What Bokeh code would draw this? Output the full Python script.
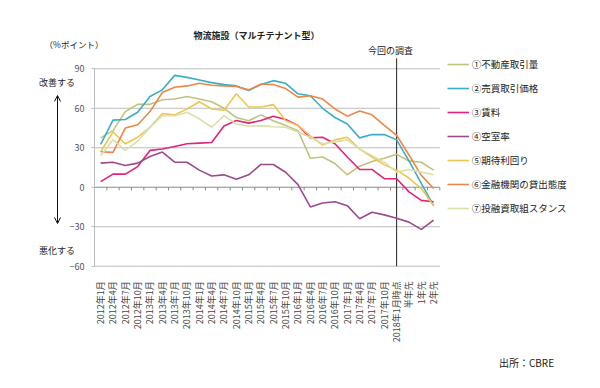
import math
from bokeh.plotting import figure
from bokeh.models import (ColumnDataSource, Range1d, FixedTicker, Legend, LegendItem,
                          Label, Arrow, OpenHead, LinearAxis)
from bokeh.embed import file_html
from bokeh.resources import INLINE

categories = [
    "2012年1月", "2012年4月", "2012年7月", "2012年10月",
    "2013年1月", "2013年4月", "2013年7月", "2013年10月",
    "2014年1月", "2014年4月", "2014年7月", "2014年10月",
    "2015年1月", "2015年4月", "2015年7月", "2015年10月",
    "2016年1月", "2016年4月", "2016年7月", "2016年10月",
    "2017年1月", "2017年4月", "2017年7月", "2017年10月",
    "2018年1月時点", "半年先", "1年先", "2年先",
]

series_names = ["①不動産取引量", "②売買取引価格", "③賃料", "④空室率",
                "⑤期待利回り", "⑥金融機関の貸出態度", "⑦投融資取組スタンス"]

s1_volume = [37.5, 43, 57.5, 63, 63, 66.5, 67, 69, 67, 65, 60, 53, 50.5, 55,
             50.5, 47, 43, 22, 23, 18, 9.5, 16, 19.5, 22, 25, 20, 19, 13]
s2_price = [32.5, 51, 51.5, 57, 69, 74, 85, 83.5, 81.5, 79.5, 78, 77, 73.5, 78,
            81, 79, 71, 69.5, 60, 53, 48, 37.5, 40, 40, 36, 20, 3, -14]
s3_rent = [4.3, 10, 10, 15.7, 28, 29, 31, 33, 33.5, 34, 46.5, 50.7, 48.7, 50.7,
           54, 51.5, 47, 37.5, 38, 33, 23, 13.5, 13.5, 6.5, 6.5, -3.5, -10, -11]
s4_vacancy = [18.3, 19, 16.5, 18.3, 23.4, 26.7, 19, 19, 13, 8.6, 9.4, 6, 9.4, 17.3,
              17.3, 11.4, 2, -15, -12, -11, -14, -24, -19, -21, -23.5, -26.5, -32, -25]
s5_yield = [27, 42, 33, 38, 45.5, 56, 55, 59.5, 65, 59.5, 58.5, 71, 61, 61,
            62.8, 50.6, 47, 39, 32, 36, 38, 29, 23, 17, 13, 7, -1, -14]
s6_lending = [27, 26.5, 45, 47.5, 57.5, 72, 76, 77, 79, 77.5, 77, 76.5, 74, 78.5,
              78, 75, 68.5, 69.5, 67, 59.5, 54, 58, 55, 47, 39.5, 24.5, 9, -1]
s7_stance = [24, 36, 28, 35, 45.5, 54.4, 54.4, 57, 52, 45.6, 54.4, 48, 46.3, 46.8,
             46, 45.6, 42, 38, 33, 34.5, 36, 29, 24, 19, 11.5, 13.5, 11.5, 9.5]

all_series = [s1_volume, s2_price, s3_rent, s4_vacancy, s5_yield, s6_lending, s7_stance]
colors = ["#BFC47C", "#3AAEC6", "#E2237E", "#9B4A8C", "#EFC650", "#EC8748", "#D9E0A8"]

y_ticks = [-60, -30, 0, 30, 60, 90]
survey_index = 24  # 今回の調査 (2018年1月時点)

FONT = "Noto Sans CJK JP"
W, H = 584, 372
# chart area inside the canvas (pixels): x of category edges, y of value 90 and -60
CL, CR = 94.0, 439.3
Y90_PX, YM60_PX = 68.3, 265.7
Y_LO, Y_HI = -60, 98
idx = list(range(len(categories)))
CW = (CR - CL) / len(categories)
PPU = (YM60_PX - Y90_PX) / 150.0


def dx(fx):
    return idx[0] - 0.5 + (fx - CL) / CW


def dy(fy):
    return 90 - (fy - Y90_PX) / PPU


p = figure(x_range=Range1d(dx(0), dx(W)), y_range=Range1d(dy(H), dy(0)),
           width=W, height=H, output_backend="svg", toolbar_location=None,
           x_axis_location=None, y_axis_location=None, min_border=0)
p.min_border_left = p.min_border_right = p.min_border_top = p.min_border_bottom = 0
p.outline_line_color = None
p.xgrid.visible = False
p.ygrid.visible = False

x_lo, x_hi = idx[0] - 0.5, idx[-1] + 0.5

# horizontal grid lines
grid_y = [t for t in y_ticks if t != 0]
p.segment(x0=[x_lo] * len(grid_y), x1=[x_hi] * len(grid_y), y0=grid_y, y1=grid_y,
          line_color="#BDBDBD", line_width=1)

# y axis
yax = LinearAxis(fixed_location=x_lo, ticker=FixedTicker(ticks=y_ticks), bounds=(Y_LO, 90))
yax.axis_line_color = "#BDBDBD"
yax.major_tick_line_color = "#BDBDBD"
yax.major_tick_out = 3
yax.major_tick_in = 0
yax.minor_tick_line_color = None
yax.major_label_text_font = FONT
yax.major_label_text_font_size = "9px"
yax.major_label_text_color = "#555555"
yax.major_label_standoff = 7
p.add_layout(yax, "left")

# x axis (category labels)
xax = LinearAxis(fixed_location=Y_LO, ticker=FixedTicker(ticks=idx))
xax.major_label_overrides = {i: c for i, c in zip(idx, categories)}
xax.axis_line_color = None
xax.major_tick_line_color = None
xax.minor_tick_line_color = None
xax.major_tick_out = 0
xax.major_tick_in = 0
xax.major_label_orientation = math.pi / 2
xax.major_label_text_font = FONT
xax.major_label_text_font_size = "9px"
xax.major_label_text_color = "#444444"
xax.major_label_standoff = 15
p.add_layout(xax, "below")

# zero axis line with ticks between categories
p.segment(x0=[x_lo], x1=[x_hi], y0=[0], y1=[0], line_color="#8A8A8A", line_width=1)
bounds_x = [i + 0.5 for i in idx]
p.segment(x0=bounds_x, x1=bounds_x, y0=[0] * len(idx), y1=[-2.4] * len(idx),
          line_color="#8A8A8A", line_width=1)

# current survey marker
p.segment(x0=[survey_index], x1=[survey_index], y0=[Y_LO], y1=[Y_HI],
          line_color="#222222", line_width=1)

items = []
for name, vals, col in zip(series_names, all_series, colors):
    src = ColumnDataSource(dict(x=idx, y=vals))
    r = p.line(x="x", y="y", source=src, line_color=col, line_width=1.6)
    items.append(LegendItem(label=name, renderers=[r]))

legend_h = 7 * 14 + 6 * 10
legend_top = 63.7 - 7
legend = Legend(items=items, location=(446.7, H - legend_top - legend_h),
                padding=0, margin=0, spacing=10, glyph_width=22, glyph_height=14,
                label_height=14, label_standoff=3, border_line_color=None,
                background_fill_alpha=0, label_text_font=FONT,
                label_text_font_size="9.5px", label_text_color="#222222")
p.add_layout(legend)


def add_text(fx, fy, text, size="9px", bold=False, align="center", color="#222222"):
    p.add_layout(Label(x=dx(fx), y=dy(fy), text=text, text_align=align,
                       text_baseline="middle", text_font=FONT, text_font_size=size,
                       text_font_style="bold" if bold else "normal", text_color=color))


add_text(256, 35, "物流施設（マルチテナント型）", size="9px", bold=True)
add_text(73.5, 43, "（%ポイント）", size="8.5px")
add_text(56.5, 81.7, "改善する", size="9px")
add_text(56.5, 250, "悪化する", size="9px")
add_text(390, 50, "今回の調査", size="9px")
add_text(526, 362, "出所：CBRE", size="10px")

p.add_layout(Arrow(start=OpenHead(size=6, line_width=1, line_color="#111111"),
                   end=OpenHead(size=6, line_width=1, line_color="#111111"),
                   x_start=dx(57), y_start=dy(95), x_end=dx(57), y_end=dy(223),
                   line_width=1, line_color="#111111"))

open("out.html", "w").write(file_html(p, INLINE))
